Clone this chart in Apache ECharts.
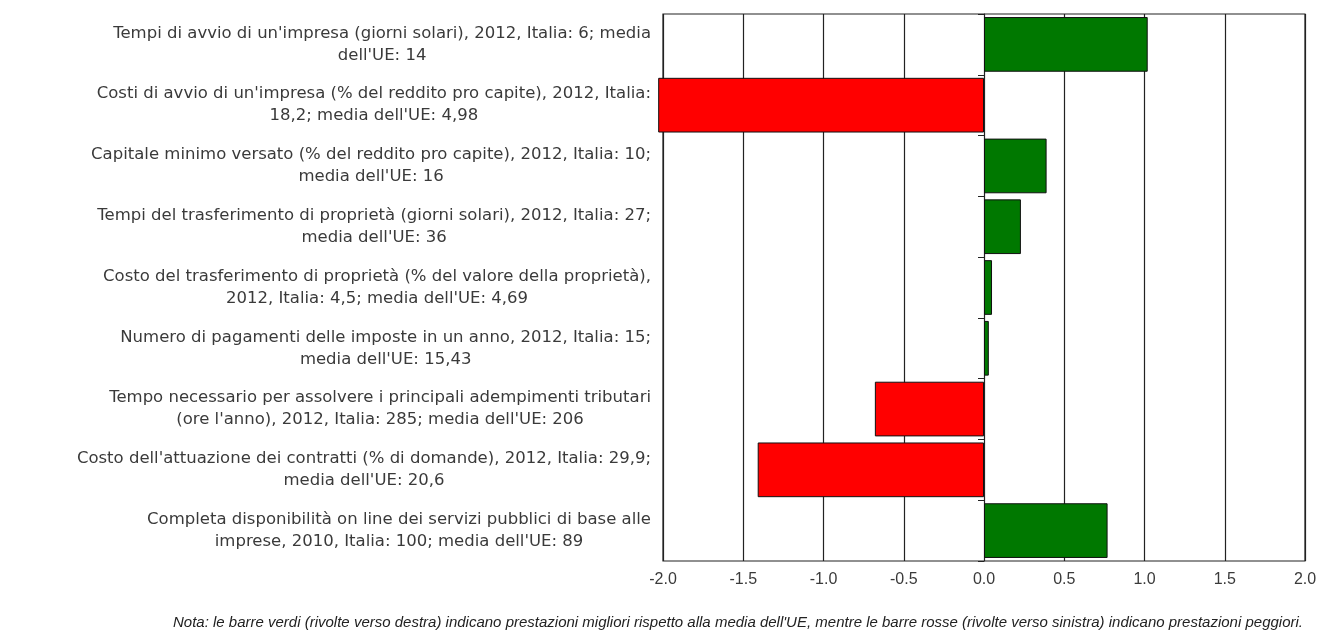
<!DOCTYPE html>
<html>
<head>
<meta charset="utf-8">
<script src="https://cdn.jsdelivr.net/npm/echarts@6/dist/echarts.min.js"></script>
<style>
    html, body { margin: 0; padding: 0; background: #fff; }
    #chart { width: 1324px; height: 640px; }
</style>
</head>
<body>
<div id="chart"></div>
<script>
// indicatori (dall'alto verso il basso)
var categories = [
    "Tempi di avvio di un'impresa (giorni solari), 2012, Italia: 6; media\ndell'UE: 14",
    "Costi di avvio di un'impresa (% del reddito pro capite), 2012, Italia:\n18,2; media dell'UE: 4,98",
    "Capitale minimo versato (% del reddito pro capite), 2012, Italia: 10;\nmedia dell'UE: 16",
    "Tempi del trasferimento di proprietà (giorni solari), 2012, Italia: 27;\nmedia dell'UE: 36",
    "Costo del trasferimento di proprietà (% del valore della proprietà),\n2012, Italia: 4,5; media dell'UE: 4,69",
    "Numero di pagamenti delle imposte in un anno, 2012, Italia: 15;\nmedia dell'UE: 15,43",
    "Tempo necessario per assolvere i principali adempimenti tributari\n(ore l'anno), 2012, Italia: 285; media dell'UE: 206",
    "Costo dell'attuazione dei contratti (% di domande), 2012, Italia: 29,9;\nmedia dell'UE: 20,6",
    "Completa disponibilità on line dei servizi pubblici di base alle\nimprese, 2010, Italia: 100; media dell'UE: 89"
];
// scarto standardizzato rispetto alla media UE
var values = [1.02, -2.03, 0.39, 0.23, 0.05, 0.03, -0.68, -1.41, 0.77];
var noteText = "Nota: le barre verdi (rivolte verso destra) indicano prestazioni migliori rispetto alla media dell'UE, mentre le barre rosse (rivolte verso sinistra) indicano prestazioni peggiori.";

var chart = echarts.init(document.getElementById('chart'), null, { renderer: 'canvas' });

var labelFont = 'DejaVu Sans';

var option = {
    backgroundColor: '#fff',
    animation: false,
    title: {
        text: noteText,
        right: 16,
        bottom: 5,
        textStyle: {
            fontFamily: 'Liberation Sans',
            fontSize: 15,
            fontStyle: 'italic',
            fontWeight: 'normal',
            color: '#222'
        }
    },
    grid: {
        left: 663,
        right: 19,
        top: 14,
        bottom: 79,
        show: true,
        borderColor: '#222',
        borderWidth: 1.2,
        containLabel: false
    },
    xAxis: {
        type: 'value',
        min: -2,
        max: 2,
        interval: 0.5,
        axisLine: { show: false },
        axisTick: { show: false },
        axisLabel: {
            margin: 11,
            fontFamily: 'Liberation Sans',
            fontSize: 16,
            color: '#3a3a3a',
            formatter: function(v) {
                return v.toFixed(1);
            }
        },
        splitLine: { lineStyle: { color: '#222', width: 1.2 } }
    },
    yAxis: [
        {
            type: 'category',
            data: categories,
            inverse: true,
            axisLine: { show: false, onZero: false },
            axisTick: { show: false },
            splitLine: { show: false },
            axisLabel: {
                margin: 12,
                interval: 0,
                fontFamily: labelFont,
                fontSize: 16.5,
                color: '#3a3a3a',
                lineHeight: 22,
                formatter: function(v) {
                    return v.split('\n').map(function(l) {
                        return '{c|' + l + '}';
                    }).join('\n');
                },
                rich: {
                    c: {
                        align: 'center',
                        fontFamily: labelFont,
                        fontSize: 16.5,
                        color: '#3a3a3a',
                        lineHeight: 22
                    }
                }
            }
        },
        {
            // asse sullo zero con le tacche tra le barre
            type: 'category',
            data: categories,
            inverse: true,
            position: 'left',
            axisLine: { show: true, onZero: true, lineStyle: { color: '#222', width: 1 } },
            axisTick: { show: true, inside: false, length: 6, lineStyle: { color: '#222' } },
            axisLabel: { show: false },
            splitLine: { show: false }
        }
    ],
    series: [
        {
            type: 'bar',
            yAxisIndex: 0,
            data: values,
            barCategoryGap: '10%',
            clip: false,
            itemStyle: {
                borderColor: '#111',
                borderWidth: 1,
                color: function(p) {
                    return p.value >= 0 ? '#007800' : '#ff0000';
                }
            }
        }
    ]
};

chart.setOption(option);
</script>
</body>
</html>
